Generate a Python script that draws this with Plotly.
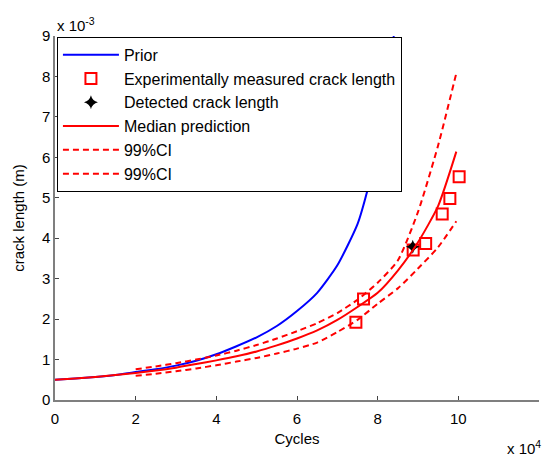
import plotly.graph_objects as go

# Axis units: cycles in 1e4, crack length in 1e-3 m
prior_cycles = [0, 0.5, 1, 1.5, 2, 2.5, 3, 3.5, 4, 4.5, 5, 5.5, 6, 6.5, 7, 7.5, 7.75, 8, 8.2, 8.4]
prior_len = [0.50, 0.53, 0.57, 0.62, 0.69, 0.76, 0.85, 0.97, 1.13, 1.33, 1.55, 1.83, 2.20, 2.65, 3.33, 4.35, 5.20, 6.30, 7.50, 9.00]

meas_cycles = [7.46, 7.65, 8.88, 9.19, 9.60, 9.79, 10.02]
meas_len = [1.92, 2.50, 3.71, 3.87, 4.60, 4.98, 5.52]

det_cycles = [8.87]
det_len = [3.79]

med_cycles = [0, 0.5, 1, 1.5, 2, 2.5, 3, 3.5, 4, 4.5, 5, 5.5, 6, 6.5, 7, 7.5, 8, 8.5, 9, 9.5, 9.95]
med_len = [0.50, 0.53, 0.57, 0.62, 0.67, 0.73, 0.80, 0.89, 0.98, 1.08, 1.20, 1.35, 1.52, 1.72, 1.98, 2.30, 2.65, 3.20, 3.90, 4.80, 6.14]

ci_cycles = [2, 2.5, 3, 3.5, 4, 4.5, 5, 5.5, 6, 6.5, 7, 7.5, 8, 8.5, 9, 9.5, 9.95]
ci_upper = [0.76, 0.83, 0.91, 1.00, 1.10, 1.22, 1.36, 1.52, 1.70, 1.90, 2.15, 2.48, 2.90, 3.45, 4.65, 6.30, 8.08]
ci_lower = [0.60, 0.65, 0.71, 0.78, 0.86, 0.95, 1.04, 1.15, 1.27, 1.42, 1.68, 1.98, 2.38, 2.76, 3.25, 3.78, 4.42]

x_ticks = [0, 2, 4, 6, 8, 10, 12]
y_ticks = [0, 1, 2, 3, 4, 5, 6, 7, 8, 9]

RED = "#ff0000"
BLUE = "#0000ff"
FONT = "Arial, Liberation Sans, sans-serif"

fig = go.Figure()
fig.add_trace(go.Scatter(x=prior_cycles, y=prior_len, mode="lines", name="Prior",
                         line=dict(color=BLUE, width=2, shape="spline", smoothing=0.6),
                         legendgroup="a"))
fig.add_trace(go.Scatter(x=meas_cycles, y=meas_len, mode="markers",
                         name="Experimentally measured crack length",
                         marker=dict(symbol="square-open", size=11, color=RED,
                                     line=dict(width=2, color=RED)), legendgroup="b"))
fig.add_trace(go.Scatter(x=det_cycles, y=det_len, mode="markers", name="Detected crack length",
                         marker=dict(symbol="star-diamond", size=10, color="black",
                                     line=dict(width=0)), legendgroup="c"))
fig.add_trace(go.Scatter(x=med_cycles, y=med_len, mode="lines", name="Median prediction",
                         line=dict(color=RED, width=2, shape="spline", smoothing=0.6),
                         legendgroup="d"))
fig.add_trace(go.Scatter(x=ci_cycles, y=ci_upper, mode="lines", name="99%CI",
                         line=dict(color=RED, width=2, dash="6px,4px", shape="spline", smoothing=0.6),
                         legendgroup="e"))
fig.add_trace(go.Scatter(x=ci_cycles, y=ci_lower, mode="lines", name="99%CI",
                         line=dict(color=RED, width=2, dash="6px,4px", shape="spline", smoothing=0.6),
                         legendgroup="f"))

axis_common = dict(
    showgrid=False, zeroline=False, showline=True, linecolor="#7f7f7f", linewidth=1.5,
    ticks="inside", ticklen=4, tickcolor="#444444", tickwidth=1,
    tickfont=dict(family=FONT, size=15, color="black"),
)

fig.update_layout(
    width=543, height=459,
    margin=dict(l=55, r=4, t=36, b=59),
    paper_bgcolor="white", plot_bgcolor="white",
    font=dict(family=FONT, color="black"),
    xaxis=dict(range=[0, 12], tickvals=x_ticks, ticktext=[str(v) for v in x_ticks],
               ticklabelstandoff=4,
               title=dict(text="Cycles", font=dict(size=15), standoff=8), **axis_common),
    yaxis=dict(range=[0, 9], tickvals=y_ticks, ticktext=[str(v) for v in y_ticks],
               title=dict(text="crack length (m)", font=dict(size=15), standoff=14), **axis_common),
    legend=dict(x=0.004, y=0.998, xanchor="left", yanchor="top",
                bgcolor="white", bordercolor="black", borderwidth=1,
                font=dict(family=FONT, size=16, color="black"),
                itemwidth=56, tracegroupgap=0, traceorder="grouped"),
    showlegend=True,
    annotations=[
        dict(text="x 10<sup>-3</sup>", xref="paper", yref="paper", x=0, y=1,
             xanchor="left", yanchor="bottom", yshift=0, showarrow=False,
             font=dict(family=FONT, size=15)),
        dict(text="x 10<sup>4</sup>", xref="paper", yref="paper", x=1, y=0,
             xanchor="right", yanchor="top", yshift=-36, xshift=4, showarrow=False,
             font=dict(family=FONT, size=15)),
    ],
)

fig.write_html("out.html")
